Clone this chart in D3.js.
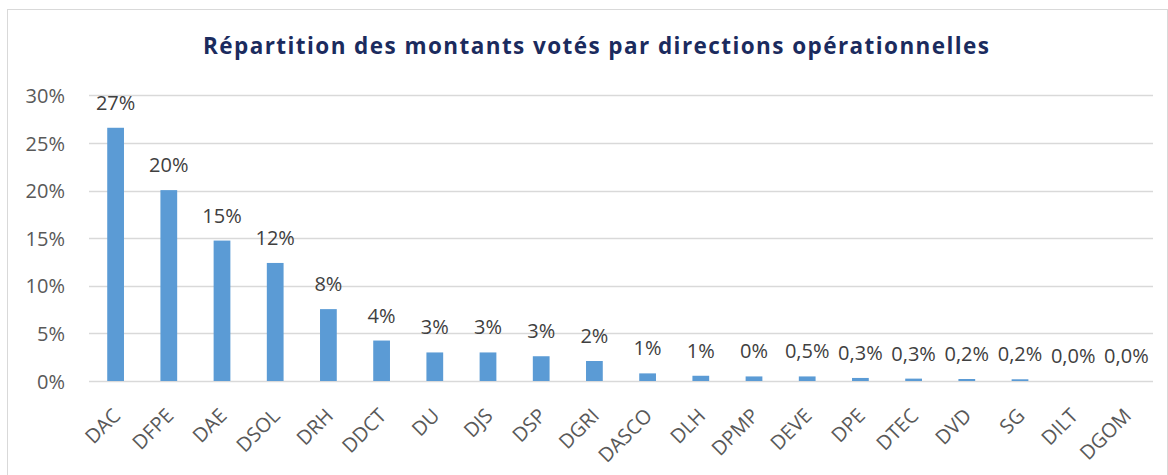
<!DOCTYPE html>
<html><head><meta charset="utf-8">
<script src="https://cdn.jsdelivr.net/npm/d3@7"></script>
<style>
html,body{margin:0;padding:0;background:#fff;}
svg{display:block;}
</style></head>
<body>
<script>
const title = "Répartition des montants votés par directions opérationnelles";
const categories = ["DAC","DFPE","DAE","DSOL","DRH","DDCT","DU","DJS","DSP","DGRI","DASCO","DLH","DPMP","DEVE","DPE","DTEC","DVD","SG","DILT","DGOM"];
const values = [26.6, 20.05, 14.75, 12.4, 7.55, 4.25, 3.0, 3.0, 2.6, 2.1, 0.8, 0.55, 0.48, 0.48, 0.32, 0.25, 0.21, 0.18, 0.0, 0.0];
const valueLabels = ["27%","20%","15%","12%","8%","4%","3%","3%","3%","2%","1%","1%","0%","0,5%","0,3%","0,3%","0,2%","0,2%","0,0%","0,0%"];
const yTicks = [0, 5, 10, 15, 20, 25, 30];
const yTickLabels = ["0%","5%","10%","15%","20%","25%","30%"];

const W = 1168, H = 475;
const font = "'Open Sans', 'Noto Sans', sans-serif";
const svg = d3.select("body").append("svg").attr("width", W).attr("height", H);
svg.append("rect").attr("width", W).attr("height", H).attr("fill", "#fff");
svg.append("rect").attr("x", 7.5).attr("y", 9.5).attr("width", 1160).attr("height", 480)
  .attr("fill", "none").attr("stroke", "#d9d9d9").attr("stroke-width", 1);

const x = d3.scaleBand().domain(categories).range([89, 1153]).paddingInner(0.685).paddingOuter(0.3425);
const y = d3.scaleLinear().domain([0, 30]).range([381, 95.4]);

// gridlines
svg.append("g").selectAll("line").data(yTicks).join("line")
  .attr("x1", 89).attr("x2", 1153)
  .attr("y1", d => Math.round(y(d)) + 0.5).attr("y2", d => Math.round(y(d)) + 0.5)
  .attr("stroke", "#d9d9d9").attr("stroke-width", 1.3);

// y axis labels
const yAxis = d3.axisLeft(y).tickValues(yTicks).tickSize(0).tickPadding(0)
  .tickFormat((d, i) => yTickLabels[i]);
const gy = svg.append("g").attr("transform", "translate(65,0)").call(yAxis);
gy.select(".domain").remove();
gy.selectAll("text").attr("font-family", font).attr("font-size", 20).attr("fill", "#595959").attr("dy", "0.35em");

// bars
svg.append("g").selectAll("rect").data(values).join("rect")
  .attr("x", (d, i) => x(categories[i]))
  .attr("width", x.bandwidth())
  .attr("y", d => y(d))
  .attr("height", d => y(0) - y(d))
  .attr("fill", "#5b9bd5");

// value labels
svg.append("g").selectAll("text").data(values).join("text")
  .attr("x", (d, i) => x(categories[i]) + x.bandwidth() / 2)
  .attr("y", d => y(d) - 18)
  .attr("text-anchor", "middle")
  .attr("font-family", font).attr("font-size", 20).attr("fill", "#404040")
  .text((d, i) => valueLabels[i]);

// x axis labels
const xAxis = d3.axisBottom(x).tickSize(0).tickPadding(0);
const gx = svg.append("g").attr("transform", "translate(0,381)").call(xAxis);
gx.select(".domain").remove();
gx.selectAll("text")
  .attr("font-family", font).attr("font-size", 20).attr("fill", "#595959")
  .attr("text-anchor", "end")
  .attr("dy", null).attr("y", null)
  .attr("transform", "translate(6,36) rotate(-45)");

// title
const t = svg.append("text").attr("x", 596).attr("y", 54).attr("text-anchor", "middle")
  .attr("font-family", "'Open Sans', sans-serif").attr("font-weight", 700).attr("font-size", 22.5)
  .attr("fill", "#1b2b5e").text(title);
t.attr("textLength", 786).attr("lengthAdjust", "spacing");
</script>
</body></html>
